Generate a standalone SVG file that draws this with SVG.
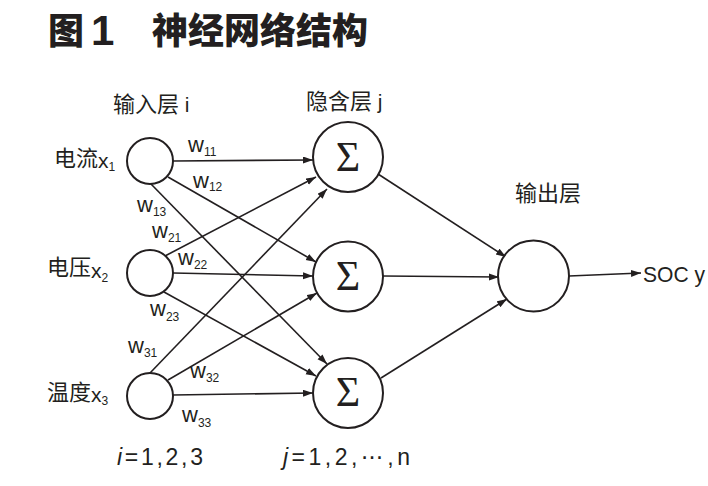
<svg xmlns="http://www.w3.org/2000/svg" width="708" height="486" viewBox="0 0 708 486">
<defs>
<style>
.t{font-family:"Liberation Sans","Noto Sans CJK SC",sans-serif;fill:#231f20}
.cjk{font-family:"Noto Sans CJK SC","Noto Sans",sans-serif;fill:#231f20;font-size:22px}
.title{font-family:"Noto Sans CJK SC",sans-serif;font-weight:900;fill:#231f20;font-size:36px}
.w{font-size:22px}
.s{font-size:12px}
.node{fill:#fff;stroke:#231f20;stroke-width:2}
.sig{font-family:"Liberation Serif","DejaVu Serif",serif;font-size:42px;fill:#231f20;text-anchor:middle}
.ln{stroke:#231f20;stroke-width:1.6;fill:none;marker-end:url(#ah)}
</style>
<marker id="ah" markerUnits="userSpaceOnUse" markerWidth="11" markerHeight="8" refX="10" refY="3.5" orient="auto">
<path d="M0,0 L10,3.5 L0,7 z" fill="#231f20"/>
</marker>
</defs>
<rect width="708" height="486" fill="#fff"/>

<g id="title">
<text class="title" x="48" y="44">图</text>
<text x="91" y="45" style="font-family:'Liberation Sans',sans-serif;font-weight:700;font-size:42px;fill:#231f20">1</text>
<text class="title" x="152" y="44">神经网络结构</text>
</g>

<g id="layer-labels">
<text class="cjk" x="113" y="112">输入层<tspan class="t" font-size="21"> i</tspan></text>
<text class="cjk" x="306" y="109">隐含层<tspan class="t" font-size="21"> j</tspan></text>
<text class="cjk" x="515" y="201" font-size="23">输出层</text>
</g>

<g id="connectors">
<line class="ln" x1="173" y1="161" x2="313" y2="160"/>
<line class="ln" x1="168" y1="177" x2="316" y2="262"/>
<line class="ln" x1="151" y1="184" x2="327" y2="364"/>
<line class="ln" x1="165" y1="256" x2="316" y2="177"/>
<line class="ln" x1="173" y1="273" x2="313" y2="276"/>
<line class="ln" x1="164" y1="292" x2="316" y2="376"/>
<line class="ln" x1="150" y1="373" x2="327" y2="189"/>
<line class="ln" x1="168" y1="380" x2="317" y2="293"/>
<line class="ln" x1="173" y1="395" x2="313" y2="393"/>
<line class="ln" x1="378" y1="174" x2="506" y2="257"/>
<line class="ln" x1="383" y1="276" x2="499" y2="277"/>
<line class="ln" x1="381" y1="378" x2="507" y2="299"/>
<line class="ln" x1="569" y1="276" x2="641" y2="273"/>
</g>

<g id="input-1">
<circle class="node" cx="150" cy="161" r="23"/>
<text class="cjk" x="54" y="166">电流<tspan class="t" font-size="21" y="168">x</tspan><tspan class="t s" y="171">1</tspan></text>
</g>
<g id="input-2">
<circle class="node" cx="150" cy="273" r="23"/>
<text class="cjk" x="47" y="275">电压<tspan class="t" font-size="21" y="278">x</tspan><tspan class="t s" y="282">2</tspan></text>
</g>
<g id="input-3">
<circle class="node" cx="150" cy="396" r="23"/>
<text class="cjk" x="47" y="400">温度<tspan class="t" font-size="21" y="402">x</tspan><tspan class="t s" y="405">3</tspan></text>
</g>

<g id="hidden-1">
<circle class="node" cx="348" cy="157" r="35"/>
<text class="sig" x="348" y="171">Σ</text>
</g>
<g id="hidden-2">
<circle class="node" cx="348" cy="276.5" r="35"/>
<text class="sig" x="348" y="290">Σ</text>
</g>
<g id="hidden-3">
<circle class="node" cx="348" cy="393" r="35"/>
<text class="sig" x="348" y="406">Σ</text>
</g>

<g id="output">
<circle class="node" cx="533.5" cy="276" r="35.5"/>
<text class="t" x="643" y="282" font-size="22" textLength="62" lengthAdjust="spacingAndGlyphs">SOC y</text>
</g>

<g id="weights" class="t">
<text class="w" x="188" y="152">w<tspan class="s" y="156">11</tspan></text>
<text class="w" x="193" y="188">w<tspan class="s" y="191">12</tspan></text>
<text class="w" x="137" y="212">w<tspan class="s" y="216">13</tspan></text>
<text class="w" x="152" y="238">w<tspan class="s" y="242">21</tspan></text>
<text class="w" x="178" y="265">w<tspan class="s" y="269">22</tspan></text>
<text class="w" x="150" y="316">w<tspan class="s" y="321">23</tspan></text>
<text class="w" x="128" y="353">w<tspan class="s" y="357">31</tspan></text>
<text class="w" x="190" y="378">w<tspan class="s" y="382">32</tspan></text>
<text class="w" x="182" y="422">w<tspan class="s" y="427">33</tspan></text>
</g>

<g id="indices">
<text class="t" x="117" y="465" font-size="23" textLength="86" lengthAdjust="spacing"><tspan font-style="italic">i</tspan>=1,2,3</text>
<text class="t" x="283" y="465" font-size="23" textLength="127" lengthAdjust="spacing"><tspan font-style="italic">j</tspan>=1,2,<tspan font-family="DejaVu Sans">⋯</tspan>,n</text>
</g>
</svg>
